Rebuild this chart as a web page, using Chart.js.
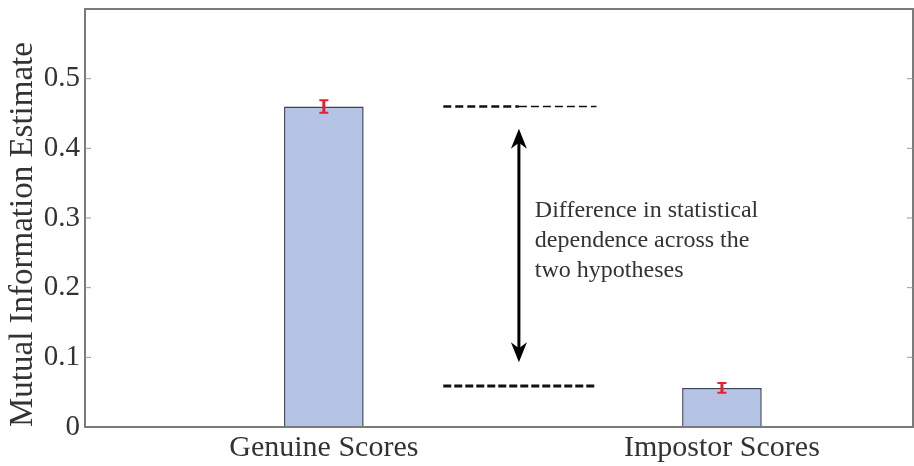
<!DOCTYPE html>
<html>
<head>
    <title>Mutual Information Estimate</title>
    <script src="https://cdn.jsdelivr.net/npm/chart.js"></script>
    <style>
        body { margin: 0; background: #fff; }
        #wrap { width: 914px; height: 466px; position: relative; }
    </style>
</head>
<body>
    <div id="wrap"><canvas id="miChart"></canvas></div>

    <script>
        // data
        const categories = ['Genuine Scores', 'Impostor Scores'];
        const xPositions = [1, 2];
        const miValues = [0.46, 0.056];
        const miErrors = [0.009, 0.007];
        const yTicks = [0, 0.1, 0.2, 0.3, 0.4, 0.5];
        const noteLines = ['Difference in statistical', 'dependence across the', 'two hypotheses'];

        // annotation placement in data units
        const dashFrom = 1.30, dashTo = 1.685;
        const arrowX = 1.49, arrowTop = 0.428, arrowBottom = 0.093;
        const noteX = 1.53, noteY = 0.31;

        const serif = '"Liberation Serif", "DejaVu Serif", serif';
        const textColor = '#333';
        const frameColor = '#7a7a7a';

        const figurePlugin = {
            id: 'figure',
            afterDatasetsDraw(chart) {
                const ctx = chart.ctx;
                const xs = chart.scales.x, ys = chart.scales.y;
                const a = chart.chartArea;
                ctx.save();

                // frame
                ctx.strokeStyle = frameColor;
                ctx.lineWidth = 2;
                ctx.strokeRect(a.left, a.top, a.right - a.left, a.bottom - a.top);

                // inward ticks left and right
                ctx.lineWidth = 1;
                ctx.strokeStyle = '#999';
                yTicks.forEach(v => {
                    const y = ys.getPixelForValue(v);
                    if (v === 0) return;
                    ctx.beginPath();
                    ctx.moveTo(a.left, y); ctx.lineTo(a.left + 6, y);
                    ctx.moveTo(a.right, y); ctx.lineTo(a.right - 6, y);
                    ctx.stroke();
                });

                // error bars
                ctx.strokeStyle = '#e8202a';
                xPositions.forEach((xv, i) => {
                    const x = xs.getPixelForValue(xv);
                    const y1 = ys.getPixelForValue(miValues[i] + miErrors[i]);
                    const y2 = ys.getPixelForValue(miValues[i] - miErrors[i]);
                    ctx.lineWidth = 3;
                    ctx.beginPath();
                    ctx.moveTo(x, y1); ctx.lineTo(x, y2);
                    ctx.stroke();
                    ctx.lineWidth = 2;
                    ctx.beginPath();
                    ctx.moveTo(x - 4.5, y1); ctx.lineTo(x + 4.5, y1);
                    ctx.moveTo(x - 4.5, y2); ctx.lineTo(x + 4.5, y2);
                    ctx.stroke();
                });

                // dashed reference lines at the two bar heights
                const dx1 = xs.getPixelForValue(dashFrom);
                const dx2 = xs.getPixelForValue(dashTo);
                const dxm = xs.getPixelForValue(arrowX);
                const yTop = ys.getPixelForValue(miValues[0]);
                const yBot = ys.getPixelForValue(miValues[1]) - 2;
                ctx.strokeStyle = '#111';
                ctx.setLineDash([8, 4]);
                ctx.lineWidth = 2.5;
                ctx.beginPath();
                ctx.moveTo(dx1, yTop); ctx.lineTo(dxm, yTop);
                ctx.stroke();
                ctx.lineWidth = 1.5;
                ctx.beginPath();
                ctx.moveTo(dxm, yTop); ctx.lineTo(dx2, yTop);
                ctx.stroke();
                ctx.lineWidth = 3;
                ctx.setLineDash([8, 3]);
                ctx.beginPath();
                ctx.moveTo(dx1, yBot); ctx.lineTo(dx2, yBot);
                ctx.stroke();
                ctx.setLineDash([]);

                // double arrow
                const ax = xs.getPixelForValue(arrowX);
                const at = ys.getPixelForValue(arrowTop);
                const ab = ys.getPixelForValue(arrowBottom);
                ctx.strokeStyle = '#000';
                ctx.fillStyle = '#000';
                ctx.lineWidth = 3;
                ctx.beginPath();
                ctx.moveTo(ax, at + 10); ctx.lineTo(ax, ab - 10);
                ctx.stroke();
                ctx.beginPath();
                ctx.moveTo(ax, at); ctx.lineTo(ax - 8, at + 20); ctx.lineTo(ax, at + 14); ctx.lineTo(ax + 8, at + 20);
                ctx.closePath(); ctx.fill();
                ctx.beginPath();
                ctx.moveTo(ax, ab); ctx.lineTo(ax - 8, ab - 20); ctx.lineTo(ax, ab - 14); ctx.lineTo(ax + 8, ab - 20);
                ctx.closePath(); ctx.fill();

                // note text
                ctx.fillStyle = textColor;
                ctx.font = '24px ' + serif;
                ctx.textBaseline = 'middle';
                ctx.textAlign = 'left';
                const nx = xs.getPixelForValue(noteX);
                const ny = ys.getPixelForValue(noteY);
                noteLines.forEach((t, i) => ctx.fillText(t, nx, ny + i * 30));

                ctx.restore();
            }
        };

        const ctx = document.getElementById('miChart').getContext('2d');
        new Chart(ctx, {
            type: 'bar',
            data: {
                datasets: [{
                    data: xPositions.map((x, i) => ({ x: x, y: miValues[i] })),
                    backgroundColor: '#b5c4e5',
                    borderColor: '#3c4258',
                    borderWidth: 1.5,
                    categoryPercentage: 1,
                    barPercentage: 0.2
                }]
            },
            options: {
                responsive: true,
                maintainAspectRatio: false,
                animation: false,
                layout: { padding: { top: 9, right: 1, left: 0, bottom: 0 } },
                plugins: { legend: { display: false }, tooltip: { enabled: false } },
                scales: {
                    x: {
                        type: 'linear',
                        offset: false,
                        min: 0.4,
                        max: 2.48,
                        grid: { display: false, tickLength: 0 },
                        border: { display: false },
                        afterBuildTicks: s => { s.ticks = xPositions.map(v => ({ value: v })); },
                        afterFit: s => { s.height = 39; s.paddingLeft = 0; s.paddingRight = 0; },
                        ticks: {
                            padding: 3,
                            color: textColor,
                            font: { family: serif, size: 30 },
                            callback: v => categories[xPositions.indexOf(v)]
                        }
                    },
                    y: {
                        min: 0,
                        max: 0.6,
                        grid: { display: false, tickLength: 0 },
                        border: { display: false },
                        afterBuildTicks: s => { s.ticks = yTicks.map(v => ({ value: v })); },
                        afterFit: s => { s.width = 85; s.paddingTop = 0; s.paddingBottom = 0; },
                        ticks: {
                            padding: 5,
                            color: textColor,
                            font: { family: serif, size: 29 },
                            callback: v => v === 0 ? '0' : v.toFixed(1)
                        },
                        title: {
                            display: true,
                            align: 'start',
                            text: 'Mutual Information Estimate',
                            color: textColor,
                            font: { family: serif, size: 33 },
                            padding: { top: 4, bottom: 0 }
                        }
                    }
                }
            },
            plugins: [figurePlugin]
        });
    </script>
</body>
</html>
